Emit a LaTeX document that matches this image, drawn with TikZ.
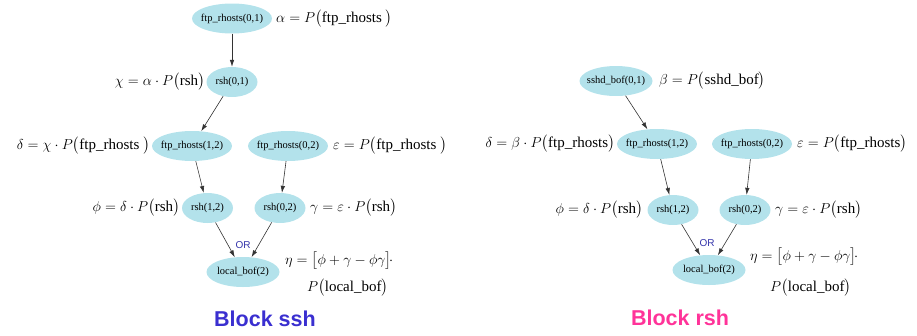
\documentclass[tikz,border=0pt]{standalone}
\usepackage{fontspec}
\usepackage{amsmath}
\setmainfont{Liberation Serif}
\setsansfont{Liberation Sans}
\newfontfamily\tnr{Liberation Serif}
\usetikzlibrary{shapes.geometric,arrows.meta}
\definecolor{nodefill}{HTML}{B3E2EB}
\definecolor{orblue}{HTML}{3333AA}
\definecolor{sshblue}{HTML}{3A2FD0}
\definecolor{rshpink}{HTML}{FF3399}
\newcommand{\tr}[1]{\hbox{\tnr #1}}
\tikzset{
  st/.style={ellipse, fill=nodefill, inner xsep=-5pt, inner ysep=0pt, minimum height=30pt,
    font=\tnr\fontsize{10.5}{12}\selectfont},
  wide/.style={st, minimum width=80pt},
  narrow/.style={st, minimum width=51pt},
  mid/.style={st, minimum width=73pt},
  fml/.style={inner sep=0pt, font=\tnr\fontsize{15}{17}\selectfont},
  arr/.style={draw=black!80, line width=0.6pt, -{Latex[length=7pt,width=4.5pt]}},
  orlab/.style={font=\sffamily\fontsize{10}{12}\selectfont, text=orblue, inner sep=0pt},
  blocklab/.style={font=\sffamily\bfseries\fontsize{21.5}{24}\selectfont, inner sep=0pt}
}
\begin{document}
\begin{tikzpicture}[x=1pt,y=-1pt]
\useasboundingbox (0,0) rectangle (917,335);
% ---------- Block ssh ----------
\node[wide] (a1) at (232,18.5) {ftp\_rhosts(0,1)};
\node[narrow] (a2) at (232,82) {rsh(0,1)};
\node[wide] (a3) at (192,146) {ftp\_rhosts(1,2)};
\node[wide] (a4) at (288,146) {ftp\_rhosts(0,2)};
\node[narrow] (a5) at (207.5,208) {rsh(1,2)};
\node[narrow] (a6) at (280,208) {rsh(0,2)};
\node[mid] (a7) at (243,272) {local\_bof(2)};
\node[orlab] (aor) at (243,245) {OR};
\draw[arr] (a1) -- (a2);
\draw[arr] (a2) -- (a3);
\draw[arr] (a3) -- (a5);
\draw[arr] (a4) -- (a6);
\draw[arr] (a5) -- (a7);
\draw[arr] (a6) -- (a7);
\node[fml, anchor=west] (fa1) at (276,19) {$\alpha = P\bigl(\tr{ftp\_rhosts}\ \bigr)$};
\node[fml, anchor=east] (fa2) at (205,82) {$\chi = \alpha\cdot P\bigl(\tr{rsh}\bigr)$};
\node[fml, anchor=east] (fa3) at (150,146) {$\delta = \chi\cdot P\bigl(\tr{ftp\_rhosts}\ \bigr)$};
\node[fml, anchor=west] (fa4) at (333,146) {$\varepsilon = P\bigl(\tr{ftp\_rhosts}\ \bigr)$};
\node[fml, anchor=east] (fa5) at (180,208) {$\phi = \delta\cdot P\bigl(\tr{rsh}\bigr)$};
\node[fml, anchor=west] (fa6) at (310,208) {$\gamma = \varepsilon\cdot P\bigl(\tr{rsh}\bigr)$};
\node[fml, anchor=west] (fa7) at (285,261) {$\eta = \bigl[\phi + \gamma - \phi\gamma\bigr]\!\cdot$};
\node[fml, anchor=west] (fa8) at (307,288) {$P\bigl(\tr{local\_bof}\bigr)$};
\node[blocklab, text=sshblue] (ta) at (265,319) {Block ssh};
% ---------- Block rsh ----------
\node[mid] (b1) at (616,81) {sshd\_bof(0,1)};
\node[wide] (b3) at (657,144) {ftp\_rhosts(1,2)};
\node[wide] (b4) at (752,144) {ftp\_rhosts(0,2)};
\node[narrow] (b5) at (673,210) {rsh(1,2)};
\node[narrow] (b6) at (745,210) {rsh(0,2)};
\node[mid] (b7) at (709,270) {local\_bof(2)};
\node[orlab] (bor) at (707,243) {OR};
\draw[arr] (b1) -- (b3);
\draw[arr] (b3) -- (b5);
\draw[arr] (b4) -- (b6);
\draw[arr] (b5) -- (b7);
\draw[arr] (b6) -- (b7);
\node[fml, anchor=west] (fb1) at (659,81) {$\beta = P\bigl(\tr{sshd\_bof}\bigr)$};
\node[fml, anchor=east] (fb3) at (615,144) {$\delta = \beta\cdot P\bigl(\tr{ftp\_rhosts}\bigr)$};
\node[fml, anchor=west] (fb4) at (797,144) {$\varepsilon = P\bigl(\tr{ftp\_rhosts}\bigr)$};
\node[fml, anchor=east] (fb5) at (643,210) {$\phi = \delta\cdot P\bigl(\tr{rsh}\bigr)$};
\node[fml, anchor=west] (fb6) at (775,210) {$\gamma = \varepsilon\cdot P\bigl(\tr{rsh}\bigr)$};
\node[fml, anchor=west] (fb7) at (750,257) {$\eta = \bigl[\phi + \gamma - \phi\gamma\bigr]\!\cdot$};
\node[fml, anchor=west] (fb8) at (770,288) {$P\bigl(\tr{local\_bof}\bigr)$};
\node[blocklab, text=rshpink] (tb) at (680,318) {Block rsh};
\end{tikzpicture}
\end{document}
